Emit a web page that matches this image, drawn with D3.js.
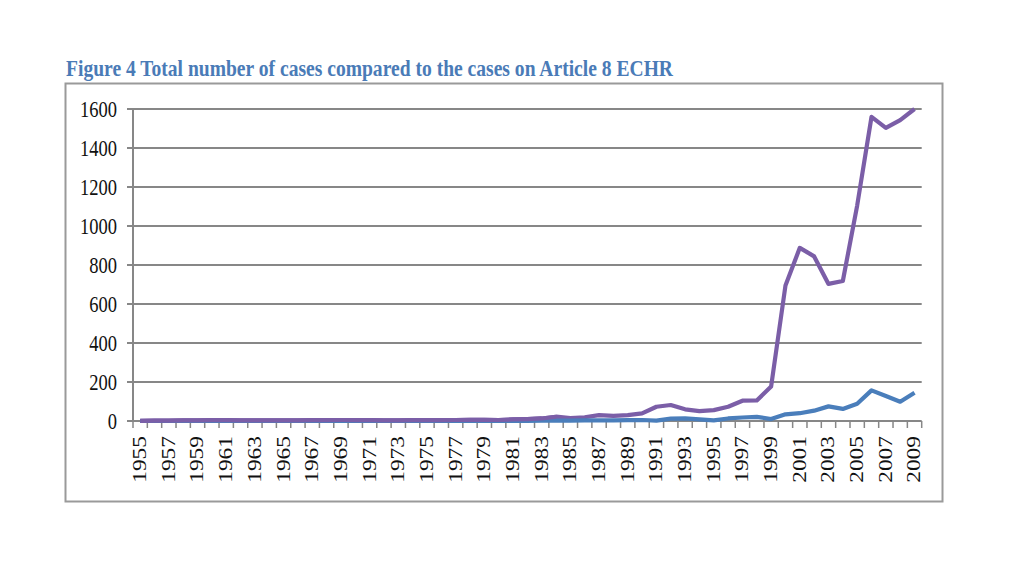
<!DOCTYPE html>
<html>
<head>
<meta charset="utf-8">
<script src="https://cdn.jsdelivr.net/npm/d3@7"></script>
<style>
  html, body { margin: 0; padding: 0; background: #fff; }
  svg { display: block; }
  text { font-family: "Liberation Serif", "Times New Roman", serif; }
</style>
</head>
<body>
<svg id="chart" width="1024" height="576"></svg>
<script>
const title = "Figure 4 Total number of cases compared to the cases on Article 8 ECHR";

const years = d3.range(1955, 2010).map(String);

// Total number of cases (purple)
const totalCases = [
  1, 2, 2, 3, 3, 4, 4, 3, 3, 3,      // 1955-1964
  3, 3, 4, 4, 5, 5, 4, 3, 3, 4,      // 1965-1974
  5, 4, 5, 6, 6, 5, 8, 10, 13, 22,   // 1975-1984
  15, 19, 30, 26, 30, 39, 73, 82, 60, 51, // 1985-1994
  56, 73, 104, 105, 177, 695, 888, 844, 703, 718, // 1995-2004
  1105, 1560, 1503, 1543, 1600       // 2005-2009
];

// Cases on Article 8 ECHR (blue)
const article8Cases = [
  0, 0, 0, 0, 0, 0, 0, 0, 0, 0,      // 1955-1964
  0, 0, 0, 0, 0, 0, 0, 0, 0, 0,      // 1965-1974
  0, 0, 0, 1, 1, 1, 1, 1, 2, 2,      // 1975-1984
  2, 3, 3, 3, 4, 5, 2, 12, 13, 8,    // 1985-1994
  3, 13, 18, 21, 10, 34, 40, 53, 75, 62, // 1995-2004
  88, 157, 128, 99, 145              // 2005-2009
];

const yTicks = [0, 200, 400, 600, 800, 1000, 1200, 1400, 1600];
const xTickLabels = years.filter((d, i) => i % 2 === 0);

(function () {
const svg = d3.select("#chart");

const pLeft = 133, pRight = 921.7, pTop = 109, pBottom = 421;

const x = d3.scaleBand().domain(years).range([pLeft, pRight]).padding(0);
const y = d3.scaleLinear().domain([0, 1600]).range([pBottom, pTop]);

// Outer frame
svg.append("rect")
  .attr("x", 65.5).attr("y", 83.5)
  .attr("width", 877).attr("height", 418)
  .attr("fill", "none")
  .attr("stroke", "#9a9a9a")
  .attr("stroke-width", 2);

// Title
svg.append("text")
  .attr("transform", "translate(66,76) scale(1,1.3)")
  .attr("font-size", 17.5)
  .attr("font-weight", "bold")
  .attr("fill", "#4a7bb7")
  .attr("textLength", 607)
  .attr("lengthAdjust", "spacingAndGlyphs")
  .text(title);

// Grid lines
svg.append("g").selectAll("line")
  .data(yTicks.filter(d => d > 0))
  .join("line")
  .attr("x1", pLeft).attr("x2", pRight)
  .attr("y1", d => y(d)).attr("y2", d => y(d))
  .attr("stroke", "#878787")
  .attr("stroke-width", 2);

// Y axis line and ticks
svg.append("line")
  .attr("x1", pLeft).attr("x2", pLeft)
  .attr("y1", pTop).attr("y2", pBottom)
  .attr("stroke", "#878787").attr("stroke-width", 2);

svg.append("g").selectAll("line")
  .data(yTicks)
  .join("line")
  .attr("x1", pLeft - 6).attr("x2", pLeft)
  .attr("y1", d => y(d)).attr("y2", d => y(d))
  .attr("stroke", "#878787").attr("stroke-width", 2);

svg.append("g").selectAll("text")
  .data(yTicks)
  .join("text")
  .attr("transform", d => `translate(117,${y(d)}) scale(1,1.3)`)
  .attr("text-anchor", "end")
  .attr("dy", "0.33em")
  .attr("font-size", 18.5)
  .attr("fill", "#111")
  .text(d => d);

// X axis line and ticks
svg.append("line")
  .attr("x1", pLeft).attr("x2", pRight)
  .attr("y1", pBottom).attr("y2", pBottom)
  .attr("stroke", "#878787").attr("stroke-width", 2);

const bounds = years.map(d => x(d)).concat([pRight]);
svg.append("g").selectAll("line")
  .data(bounds)
  .join("line")
  .attr("x1", d => d).attr("x2", d => d)
  .attr("y1", pBottom).attr("y2", pBottom + 7)
  .attr("stroke", "#878787").attr("stroke-width", 1.5);

svg.append("g").selectAll("text")
  .data(xTickLabels)
  .join("text")
  .attr("transform", d => `translate(${x(d) + x.bandwidth() / 2},436) scale(1,1.3) rotate(-90)`)
  .attr("text-anchor", "end")
  .attr("dy", "0.33em")
  .attr("font-size", 18)
  .attr("fill", "#111")
  .text(d => d);

// Lines
const cx = d => x(d) + x.bandwidth() / 2;
const line = d3.line()
  .x(d => cx(d.year))
  .y(d => y(d.value));

const totalData = years.map((yr, i) => ({ year: yr, value: totalCases[i] }));
const art8Data = years.map((yr, i) => ({ year: yr, value: article8Cases[i] }));

svg.append("path")
  .datum(totalData)
  .attr("d", line)
  .attr("fill", "none")
  .attr("stroke", "#7b5ea7")
  .attr("stroke-width", 4.2)
  .attr("stroke-linejoin", "round");

svg.append("path")
  .datum(art8Data)
  .attr("d", line)
  .attr("fill", "none")
  .attr("stroke", "#4a7ebb")
  .attr("stroke-width", 4.2)
  .attr("stroke-linejoin", "round");

// Purple drawn over blue in the early years, as in the reference
svg.append("path")
  .datum(totalData.slice(0, 30))
  .attr("d", line)
  .attr("fill", "none")
  .attr("stroke", "#7b5ea7")
  .attr("stroke-width", 4.2)
  .attr("stroke-linejoin", "round");
})();
</script>
</body>
</html>
